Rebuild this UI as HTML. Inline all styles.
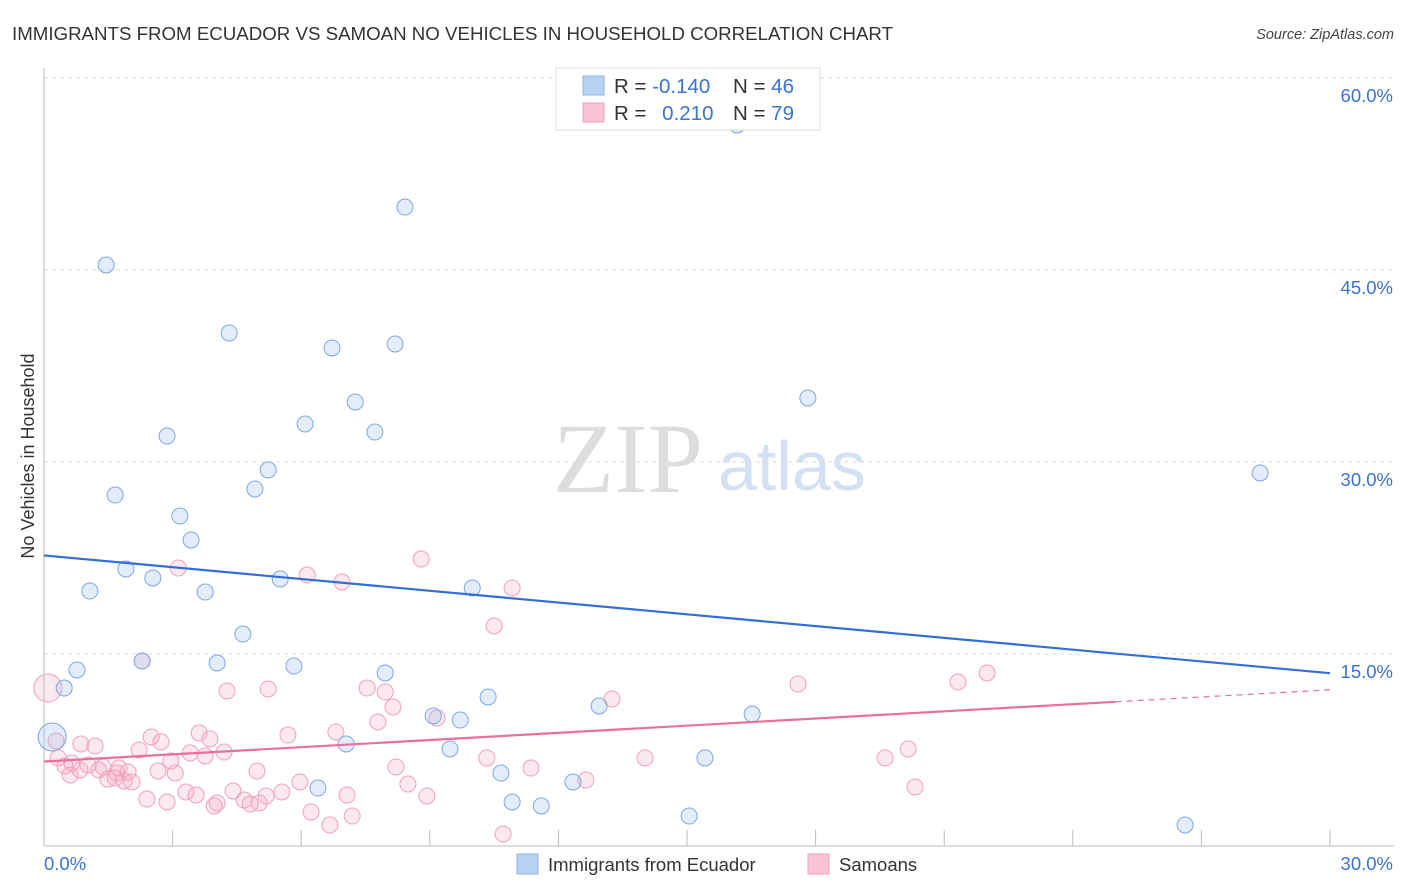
<!DOCTYPE html>
<html><head><meta charset="utf-8"><style>
body{margin:0;background:#fff;font-family:"Liberation Sans",sans-serif;}
#wrap{position:relative;width:1406px;height:892px;overflow:hidden;}
</style></head><body>
<div id="wrap">
<svg id="svg" width="1406" height="892" xmlns="http://www.w3.org/2000/svg">
<text x="12" y="40" font-size="18" fill="#333" textLength="881" lengthAdjust="spacingAndGlyphs">IMMIGRANTS FROM ECUADOR VS SAMOAN NO VEHICLES IN HOUSEHOLD CORRELATION CHART</text>
<text x="1394" y="39" font-size="14.5" fill="#444" font-style="italic" text-anchor="end">Source: ZipAtlas.com</text>
<text x="34" y="456" font-size="18" fill="#333" transform="rotate(-90 34 456)" text-anchor="middle">No Vehicles in Household</text>
<text x="553" y="492" font-size="100" fill="#ddd" font-family="Liberation Serif,serif">ZIP</text>
<text x="718" y="490" font-size="70" fill="#d3e1f5">atlas</text>
<g id="grid"></g><g id="axes"></g><g id="pts"></g><g id="lines"></g>
<g>
<rect x="556" y="68" width="264" height="62" fill="#fff" stroke="#ddd"/>
<rect x="583" y="76" width="21" height="19" fill="#b9d0f5" stroke="#8fb3e8"/>
<rect x="583" y="103" width="21" height="19" fill="#f9c5d5" stroke="#f0a0bc"/>
<text x="614" y="93" font-size="20.5" fill="#333">R = <tspan fill="#3a73d0">-0.140</tspan></text>
<text x="733" y="93" font-size="20.5" fill="#333">N = <tspan fill="#3a73d0">46</tspan></text>
<text x="614" y="120" font-size="20.5" fill="#333">R = <tspan fill="#3a73d0" dx="10">0.210</tspan></text>
<text x="733" y="120" font-size="20.5" fill="#333">N = <tspan fill="#3a73d0">79</tspan></text>
</g>
<g>
<rect x="517" y="854" width="21" height="20" fill="#b9d0f5" stroke="#8fb3e8"/>
<text x="548" y="871" font-size="18.5" fill="#333">Immigrants from Ecuador</text>
<rect x="808" y="854" width="21" height="20" fill="#f9c5d5" stroke="#f0a0bc"/>
<text x="839" y="871" font-size="18.5" fill="#333">Samoans</text>
</g>
</svg></div>
<script>
const yTicks=[15,30,45,60];
const yTickLabels=["15.0%","30.0%","45.0%","60.0%"];
const xTicks=[0,3,6,9,12,15,18,21,24,27,30];
const blueX=[16.17,8.42,1.45,4.32,6.72,8.19,7.26,17.82,2.87,6.09,7.72,28.37,5.23,1.66,4.92,3.17,3.43,1.91,2.54,1.07,3.76,5.51,9.99,4.64,2.29,4.04,0.77,5.83,7.96,0.47,10.36,12.95,9.08,9.71,16.52,0.19,7.05,9.47,15.42,10.66,12.34,6.39,10.92,11.6,15.05,26.62];
const blueY=[56.33,49.92,45.39,40.08,38.91,39.22,34.69,35.0,32.03,32.97,32.34,29.14,29.38,27.42,27.89,25.78,23.91,21.64,20.94,19.92,19.84,20.86,20.16,16.56,14.45,14.3,13.75,14.06,13.52,12.34,11.64,10.94,10.16,9.84,10.31,8.52,7.97,7.58,6.88,5.70,5.0,4.53,3.44,3.13,2.34,1.64];
const pinkX=[0.09,8.8,3.13,6.14,6.95,10.92,10.5,2.29,22.0,21.32,17.59,5.23,4.27,7.54,7.96,13.25,8.14,9.17,7.79,6.81,5.69,3.62,2.5,2.73,3.87,0.28,0.86,1.19,2.22,4.2,3.41,3.76,0.33,0.65,0.49,1.03,1.38,1.75,1.96,2.66,2.96,3.06,10.33,14.02,19.62,20.16,8.21,11.36,4.97,0.61,1.49,1.66,1.87,2.05,5.97,8.49,3.31,3.55,4.41,5.18,5.55,4.67,12.64,20.32,2.4,2.87,3.97,4.04,4.81,5.02,8.93,7.07,6.23,7.19,6.67,10.71,1.7,0.84,1.28];
const pinkY=[12.34,22.42,21.72,21.17,20.63,20.16,17.19,14.45,13.52,12.81,12.66,12.27,12.11,12.34,12.03,11.48,10.86,10.0,9.69,8.91,8.67,8.83,8.52,8.13,8.36,8.2,7.97,7.81,7.5,7.34,7.27,7.03,6.88,6.48,6.25,6.33,6.17,6.09,5.78,5.86,6.64,5.70,6.88,6.88,6.88,7.58,6.17,6.09,5.86,5.55,5.23,5.31,5.08,5.0,5.0,4.84,4.22,3.98,4.3,3.91,4.22,3.59,5.16,4.61,3.67,3.44,3.13,3.36,3.28,3.36,3.91,3.98,2.66,2.34,1.64,0.94,5.7,5.94,5.94];
const blueBig=[35], pinkBig=[0];
const blueTrend=[22.7,13.5], pinkTrend=[6.6,12.2];
const NS="http://www.w3.org/2000/svg";
const X=v=>44+v/30*1286, Y=v=>846-v/15*192;
function mk(tag,attrs,parent){const e=document.createElementNS(NS,tag);for(const k in attrs)e.setAttribute(k,attrs[k]);parent.appendChild(e);return e;}
const grid=document.getElementById('grid'),axes=document.getElementById('axes'),pts=document.getElementById('pts'),lines=document.getElementById('lines');
yTicks.forEach((t,i)=>{
 const l=mk('line',{x1:44,x2:1394,y1:Y(t),y2:Y(t),stroke:'#ddd','stroke-dasharray':'4,4'},grid);
 
 
 const tx=mk('text',{x:1393,y:Y(t)+24,'font-size':18.5,fill:'#3a73d0','text-anchor':'end'},axes);
 tx.textContent=yTickLabels[i];
 
 
});
const ya=mk('line',{x1:44,x2:44,y1:68,y2:846,stroke:'#bbb'},axes);


const xa=mk('line',{x1:44,x2:1394,y1:846,y2:846,stroke:'#bbb'},axes);


xTicks.forEach(t=>{
 const l=mk('line',{x1:X(t),x2:X(t),y1:830,y2:846,stroke:'#bbb'},axes);
 
 
});
const xl0=mk('text',{x:44,y:870,'font-size':18.5,fill:'#3a73d0'},axes);xl0.textContent='0.0%';


const xl1=mk('text',{x:1393,y:870,'font-size':18.5,fill:'#3a73d0','text-anchor':'end'},axes);xl1.textContent='30.0%';


pinkX.forEach((v,i)=>{
 const c=mk('circle',{cx:X(v),cy:Y(pinkY[i]),r:pinkBig.includes(i)?14:8,fill:'rgba(245,165,192,0.25)',stroke:'#f0a0bc','stroke-width':1},pts);
 
 
});
blueX.forEach((v,i)=>{
 const c=mk('circle',{cx:X(v),cy:Y(blueY[i]),r:blueBig.includes(i)?14:8,fill:'rgba(160,192,240,0.3)',stroke:'#7ea6e0','stroke-width':1},pts);
 
 
});
const bl=mk('line',{x1:X(0),y1:Y(blueTrend[0]),x2:X(30),y2:Y(blueTrend[1]),stroke:'#2f6fd6','stroke-width':2.2},lines);


const pm=v=>pinkTrend[0]+(pinkTrend[1]-pinkTrend[0])*v/30;
const pl=mk('line',{x1:X(0),y1:Y(pm(0)),x2:X(25),y2:Y(pm(25)),stroke:'#e8719c','stroke-width':2.2},lines);


const pd=mk('line',{x1:X(25),y1:Y(pm(25)),x2:X(30),y2:Y(pm(30)),stroke:'#e8719c','stroke-width':1.2,'stroke-dasharray':'6,5'},lines);


</script>
</body></html>
